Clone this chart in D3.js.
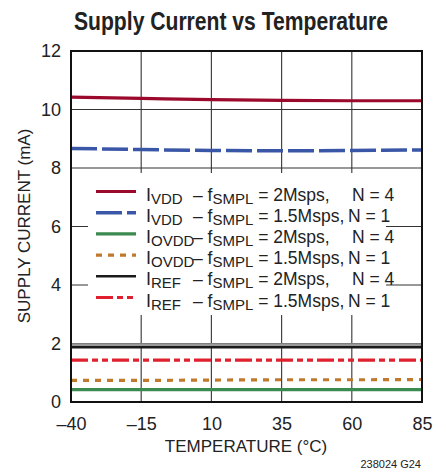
<!DOCTYPE html>
<html><head><meta charset="utf-8">
<script src="https://cdn.jsdelivr.net/npm/d3@7"></script>
<style>
body{margin:0;background:#fff;}
svg text{font-family:"Liberation Sans Narrow","Liberation Sans",Arial,sans-serif;fill:#222;}
</style></head>
<body><svg id="c" width="446" height="473"></svg>
<script>
const temps = [-40, -15, 10, 35, 60, 85];
const ivdd2M = [10.42, 10.38, 10.34, 10.31, 10.30, 10.30];
const ivdd15M = [8.67, 8.63, 8.60, 8.59, 8.60, 8.62];
const iovdd2M = [0.42, 0.42, 0.42, 0.42, 0.42, 0.42];
const iovdd15M = [0.74, 0.74, 0.75, 0.76, 0.76, 0.77];
const iref2M = [1.87, 1.87, 1.87, 1.87, 1.87, 1.87];
const iref2MShade = [1.96, 1.96, 1.96, 1.96, 1.96, 1.96];
const iref15M = [1.43, 1.43, 1.43, 1.43, 1.43, 1.43];
const xTicks = [-40, -15, 10, 35, 60, 85];
const yTicks = [0, 2, 4, 6, 8, 10, 12];
const legendRows = [
  {main:"I", sub:"VDD", rate:"2Msps,", n:"N = 4"},
  {main:"I", sub:"VDD", rate:"1.5Msps,", n:"N = 1"},
  {main:"I", sub:"OVDD", rate:"2Msps,", n:"N = 4"},
  {main:"I", sub:"OVDD", rate:"1.5Msps,", n:"N = 1"},
  {main:"I", sub:"REF", rate:"2Msps,", n:"N = 4"},
  {main:"I", sub:"REF", rate:"1.5Msps,", n:"N = 1"}
];

const svg = d3.select("#c");
const L = 71, R = 422, T = 51, B = 402;
const x = d3.scaleLinear().domain([-40, 85]).range([L, R]);
const y = d3.scaleLinear().domain([0, 12]).range([B, T]);

// title
svg.append("text").attr("x", 231).attr("y", 30).attr("text-anchor", "middle")
  .attr("font-weight", "bold").attr("font-size", 25).attr("fill", "#222")
  .attr("textLength", 314).attr("lengthAdjust", "spacingAndGlyphs")
  .text("Supply Current vs Temperature");

// gridlines
const grid = svg.append("g");
grid.selectAll(".vg").data(xTicks.slice(1, -1)).join("line")
  .attr("x1", d => x(d)).attr("x2", d => x(d)).attr("y1", T).attr("y2", B)
  .attr("stroke", "#444").attr("stroke-width", 1.2);
grid.selectAll(".hg").data(yTicks.slice(1, -1)).join("line")
  .attr("x1", L).attr("x2", R).attr("y1", d => y(d)).attr("y2", d => y(d))
  .attr("stroke", "#333").attr("stroke-width", 1.2);

// legend background hides grid
svg.append("rect").attr("x", 88).attr("y", 173).attr("width", 298).attr("height", 142).attr("fill", "#fff");

// axes labels
const yAxis = d3.axisLeft(y).tickValues(yTicks).tickSize(0).tickPadding(10);
const gy = svg.append("g").attr("transform", `translate(${L},0)`).call(yAxis);
gy.select(".domain").remove();
gy.selectAll("text").attr("font-size", 18).attr("fill", "#222");

const xAxis = d3.axisBottom(x).tickValues(xTicks).tickSize(0).tickPadding(15)
  .tickFormat(d => d < 0 ? "\u2013" + Math.abs(d) : String(d));
const gx = svg.append("g").attr("transform", `translate(0,${B})`).call(xAxis);
gx.select(".domain").remove();
gx.selectAll("text").attr("font-size", 18).attr("fill", "#222");

svg.append("text").attr("x", 246).attr("y", 452).attr("text-anchor", "middle")
  .attr("font-size", 17).text("TEMPERATURE (\u00B0C)");
svg.append("text").attr("transform", "translate(30,226) rotate(-90)").attr("text-anchor", "middle")
  .attr("font-size", 17).text("SUPPLY CURRENT (mA)");
svg.append("text").attr("x", 421).attr("y", 468).attr("text-anchor", "end")
  .attr("font-size", 11).text("238024 G24");

// series
const series = [
  {vals: iref2MShade, color: "#999", w: 3, dash: null},
  {vals: ivdd2M, color: "#9b0a2d", w: 3.2, dash: null},
  {vals: ivdd15M, color: "#3a56a6", w: 3.5, dash: "26,5"},
  {vals: iovdd2M, color: "#3b8a50", w: 3.2, dash: null},
  {vals: iovdd15M, color: "#c07a2e", w: 3.2, dash: "6,6"},
  {vals: iref2M, color: "#1a1a1a", w: 2.4, dash: null},
  {vals: iref15M, color: "#e0202e", w: 3.2, dash: "17,4,6,4,6,4"}
];
const line = d3.line().x((d, i) => x(temps[i])).y(d => y(d)).curve(d3.curveMonotoneX);
svg.append("clipPath").attr("id", "pc").append("rect")
  .attr("x", L).attr("y", T).attr("width", R - L).attr("height", B - T);
svg.append("g").attr("clip-path", "url(#pc)").selectAll("path").data(series).join("path")
  .attr("d", d => line(d.vals)).attr("fill", "none")
  .attr("stroke", d => d.color).attr("stroke-width", d => d.w)
  .attr("stroke-dasharray", d => d.dash);

// frame
svg.append("rect").attr("x", L).attr("y", T).attr("width", R - L).attr("height", B - T)
  .attr("fill", "none").attr("stroke", "#111").attr("stroke-width", 2);

// legend
const legSeries = series.slice(1);
const lg = svg.append("g");
legendRows.forEach((r, i) => {
  const ly = 191.5 + i * 21.2;
  const s = legSeries[i];
  lg.append("line").attr("x1", 96).attr("x2", 136).attr("y1", ly).attr("y2", ly)
    .attr("stroke", s.color).attr("stroke-width", s.w).attr("stroke-dasharray", s.dash);
  const t = lg.append("text").attr("y", ly + 9).attr("font-size", 17.5);
  t.append("tspan").attr("x", 146).attr("font-size", 18).text(r.main);
  t.append("tspan").attr("dy", 3).attr("font-size", 15).text(r.sub);
  t.append("tspan").attr("x", 193).attr("dy", -3).text("\u2013 f");
  t.append("tspan").attr("dy", 3).attr("font-size", 15).text("SMPL");
  t.append("tspan").attr("dy", -3).text(" = " + r.rate);
  t.append("tspan").attr("x", r.rate === "2Msps," ? 352 : 348).text(r.n);
});
</script></body></html>
